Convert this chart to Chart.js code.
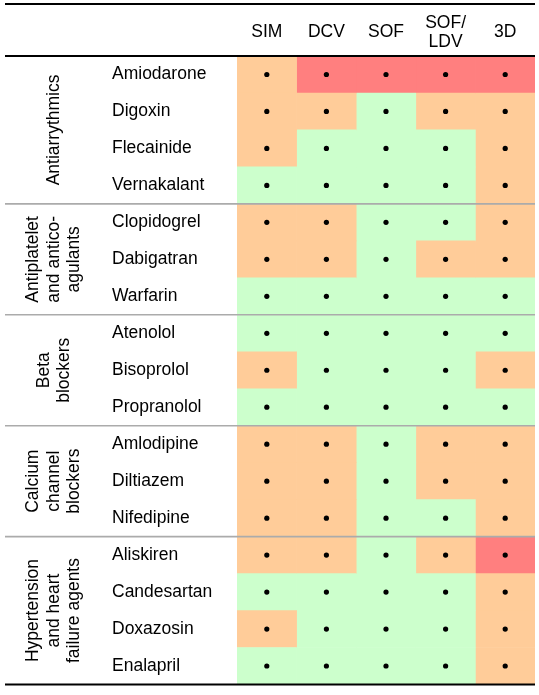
<!DOCTYPE html>
<html>
<head>
<meta charset="utf-8">
<script src="https://cdn.jsdelivr.net/npm/chart.js@4.4.1/dist/chart.umd.min.js"></script>
<style>
  html, body { margin: 0; padding: 0; background: #fff; }
  #wrap { width: 539px; height: 695px; }
</style>
</head>
<body>
<div id="wrap"><canvas id="grid"></canvas></div>
<script>
const regimens = ['SIM', 'DCV', 'SOF', ['SOF/', 'LDV'], '3D'];
const drugs = ['Amiodarone', 'Digoxin', 'Flecainide', 'Vernakalant',
  'Clopidogrel', 'Dabigatran', 'Warfarin',
  'Atenolol', 'Bisoprolol', 'Propranolol',
  'Amlodipine', 'Diltiazem', 'Nifedipine',
  'Aliskiren', 'Candesartan', 'Doxazosin', 'Enalapril'];
const groupNames = [['Antiarrythmics'], ['Antiplatelet', 'and antico-', 'agulants'], ['Beta', 'blockers'],
  ['Calcium', 'channel', 'blockers'], ['Hypertension', 'and heart', 'failure agents']];
const groupSizes = [4, 3, 3, 3, 4];

// 0 = no interaction, 1 = potential interaction, 2 = do not co-administer
const sim    = [1, 1, 1, 0, 1, 1, 0, 0, 1, 0, 1, 1, 1, 1, 0, 1, 0];
const dcv    = [2, 1, 0, 0, 1, 1, 0, 0, 0, 0, 1, 1, 1, 1, 0, 0, 0];
const sof    = [2, 0, 0, 0, 0, 0, 0, 0, 0, 0, 0, 0, 0, 0, 0, 0, 0];
const sofLdv = [2, 1, 0, 0, 0, 1, 0, 0, 0, 0, 1, 1, 0, 1, 0, 0, 0];
const threeD = [2, 1, 1, 1, 1, 1, 0, 0, 1, 0, 1, 1, 1, 2, 1, 1, 1];
const columns = [sim, dcv, sof, sofLdv, threeD];

const levelColours = ['#CCFFCC', '#FFCC99', '#FF7F7F'];
const FONT = { family: '"Liberation Sans", Arial, sans-serif', size: 17.5 };

// rules and rotated group names
const tableRules = {
    id: 'tableRules',
    afterDraw(chart) {
        const { ctx, chartArea: a, scales: { x, y } } = chart;
        const left = 5;
        const rule = (py, colour, w) => {
            ctx.save();
            ctx.strokeStyle = colour;
            ctx.lineWidth = w;
            ctx.beginPath();
            ctx.moveTo(left, py);
            ctx.lineTo(a.right, py);
            ctx.stroke();
            ctx.restore();
        };
        const edge = (i) => (y.getPixelForValue(i - 1) + y.getPixelForValue(i)) / 2;

        let start = 0;
        groupSizes.forEach((n, g) => {
            const end = start + n;
            const top = start === 0 ? a.top : edge(start);
            const bottom = end === drugs.length ? a.bottom : edge(end);
            if (end < drugs.length) rule(bottom, '#ababab', 1.6);

            const lines = groupNames[g];
            ctx.save();
            ctx.translate(54, (top + bottom) / 2);
            ctx.rotate(-Math.PI / 2);
            ctx.fillStyle = '#000';
            ctx.font = `${FONT.size}px ${FONT.family}`;
            ctx.textAlign = 'center';
            ctx.textBaseline = 'middle';
            lines.forEach((t, k) => ctx.fillText(t, 0, (k - (lines.length - 1) / 2) * 20.5));
            ctx.restore();
            start = end;
        });

        rule(x.top, '#000', 2);
        rule(a.top, '#000', 2);
        rule(a.bottom, '#000', 2);
    }
};

const barSets = columns.map((levels, j) => ({
    type: 'bar',
    label: Array.isArray(regimens[j]) ? regimens[j].join('') : regimens[j],
    data: drugs.map(() => 1),
    backgroundColor: levels.map(v => levelColours[v]),
    borderWidth: 0,
    barPercentage: 1,
    categoryPercentage: 1
}));

const dotSet = {
    type: 'scatter',
    label: 'dots',
    data: drugs.flatMap(d => regimens.map((r, j) => ({ x: j + 0.5, y: d }))),
    backgroundColor: '#000',
    borderWidth: 0,
    pointRadius: 2.6,
    order: -1
};

new Chart(document.getElementById('grid'), {
    type: 'bar',
    data: { labels: drugs, datasets: [dotSet, ...barSets] },
    options: {
        indexAxis: 'y',
        responsive: true,
        maintainAspectRatio: false,
        animation: false,
        layout: { padding: { top: 4, left: 112, right: 3, bottom: 7 } },
        plugins: { legend: { display: false }, tooltip: { enabled: false } },
        scales: {
            x: {
                type: 'linear',
                position: 'top',
                min: 0,
                max: 5,
                stacked: true,
                grid: { display: false, drawTicks: false },
                border: { display: false },
                afterBuildTicks: s => { s.ticks = regimens.map((r, i) => ({ value: i + 0.5 })); },
                afterFit: s => { s.height = 52; },
                ticks: {
                    callback: (v, i) => regimens[i],
                    color: '#000',
                    font: { ...FONT, lineHeight: 1.08 },
                    padding: 14,
                    crossAlign: 'center',
                    autoSkip: false,
                    maxRotation: 0
                }
            },
            y: {
                type: 'category',
                stacked: true,
                grid: { display: false, drawTicks: false },
                border: { display: false },
                afterFit: s => { s.width = 125; },
                ticks: { color: '#000', font: FONT, crossAlign: 'far', autoSkip: false, padding: 0 }
            }
        }
    },
    plugins: [tableRules]
});
</script>
</body>
</html>
